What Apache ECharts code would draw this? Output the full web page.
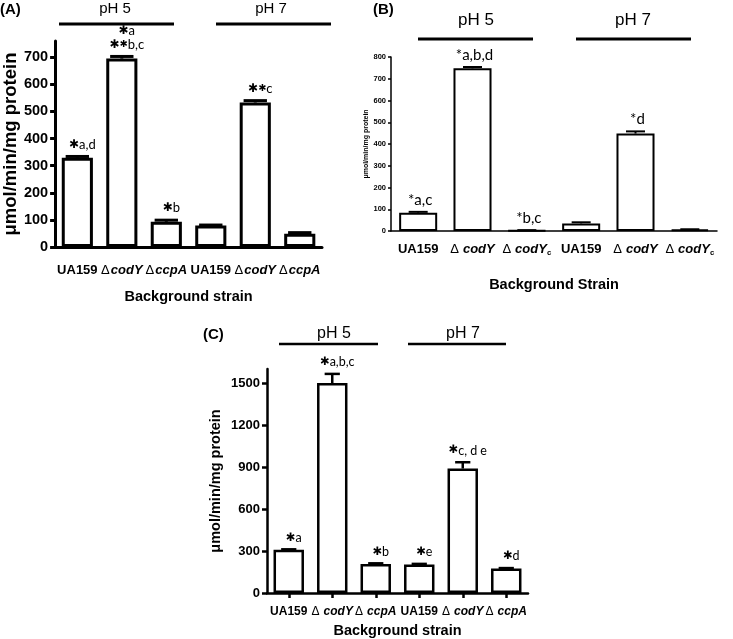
<!DOCTYPE html>
<html><head><meta charset="utf-8">
<script src="https://cdn.jsdelivr.net/npm/echarts@6/dist/echarts.min.js"></script>
<style>html,body{margin:0;padding:0;background:#fff}#c{width:733px;height:639px}</style>
</head><body><div id="c"></div>
<script>
// ---- Data ----
const catsA = ['UA159', 'ΔcodY', 'ΔccpA', 'UA159', 'ΔcodY', 'ΔccpA'];
const valsA = [329, 695, 93, 79, 533, 49];
const errA  = [5, 8, 6, 2, 7, 4];
const annA  = ['*a,d', '*a\n**b,c', '*b', '', '**c', ''];
const ticksA = [0, 100, 200, 300, 400, 500, 600, 700];

const catsB = ['UA159', 'ΔcodY', 'ΔcodY_c', 'UA159', 'ΔcodY', 'ΔcodY_c'];
const valsB = [84, 748, 3, 35, 448, 7];
const errB  = [4, 6, 1, 5, 10, 1];
const annB  = ['*a,c', '*a,b,d', '*b,c', '', '*d', ''];
const ticksB = [0, 100, 200, 300, 400, 500, 600, 700, 800];

const catsC = ['UA159', 'ΔcodY', 'ΔccpA', 'UA159', 'ΔcodY', 'ΔccpA'];
const valsC = [309, 1500, 208, 203, 889, 175];
const errC  = [3, 65, 4, 5, 45, 3];
const annC  = ['*a', '*a,b,c', '*b', '*e', '*c, d e', '*d'];
const ticksC = [0, 300, 600, 900, 1200, 1500];

const groupLabels = ['pH 5', 'pH 7'];
const yName = 'μmol/min/mg protein';

// ---- helpers ----
const F = 'Liberation Sans, Arial, sans-serif';
const AF = 'Lato, Noto Sans, sans-serif';

function catFmt(v) {
  if (v.charAt(0) === 'Δ') {
    let rest = v.slice(1), sub = '';
    if (rest.indexOf('_') >= 0) { sub = rest.split('_')[1]; rest = rest.split('_')[0]; }
    return '{d|Δ}{i|' + rest + '}' + (sub ? '{s|' + sub + '}' : '');
  }
  return '{b|' + v + '}';
}
function catRich(fs, gap) {
  return {
    b: {fontFamily: F, fontWeight: 'bold', fontSize: fs, color: '#000', lineHeight: fs + 2},
    d: {fontFamily: F, fontWeight: 'normal', fontSize: fs, color: '#000', lineHeight: fs + 2, padding: [0, gap, 0, 0]},
    i: {fontFamily: F, fontWeight: 'bold', fontStyle: 'italic', fontSize: fs, color: '#000', lineHeight: fs + 2},
    s: {fontFamily: F, fontWeight: 'bold', fontSize: fs * 0.6, color: '#000', lineHeight: fs * 0.6, verticalAlign: 'bottom'}
  };
}
function annFmt(str, bigStar) {
  return str.split('\n').map(line => {
    let out = '', first = true;
    for (const ch of line) {
      if (ch === '*') { out += bigStar ? (first ? '{s|✱}' : '{s2|✱}') : '{p|*}'; first = false; }
      else out += '{t|' + ch + '}';
    }
    return out;
  }).join('\n');
}
function annRich(fs, starFs) {
  return {
    t: {fontFamily: AF, fontSize: fs, fill: '#000', lineHeight: fs + 1},
    p: {fontFamily: AF, fontSize: fs, fill: '#000', lineHeight: fs + 1},
    s: {fontFamily: 'DejaVu Sans', fontSize: starFs, fill: '#000', lineHeight: fs + 1},
    s2: {fontFamily: 'DejaVu Sans', fontSize: starFs * 0.8, fill: '#000', lineHeight: fs + 1}
  };
}
function errSeries(idx, vals, errs, anns, o) {
  return {
    type: 'custom', xAxisIndex: idx, yAxisIndex: idx, z: 5,
    data: vals.map((v, i) => [i, v, errs[i]]),
    renderItem: function (params, api) {
      const i = api.value(0), v = api.value(1), e = api.value(2);
      const base = api.coord([i, v]);
      const top = api.coord([i, v + e]);
      const bw = api.size([1, 0])[0] * 0.7;
      const cw = bw * o.cap / 2;
      const children = [
        {type: 'line', shape: {x1: base[0], y1: base[1], x2: top[0], y2: top[1]}, style: {stroke: '#000', lineWidth: o.lw}},
        {type: 'line', shape: {x1: top[0] - cw, y1: top[1], x2: top[0] + cw, y2: top[1]}, style: {stroke: '#000', lineWidth: o.lw}}
      ];
      const a = anns[params.dataIndex];
      if (a) {
        children.push({type: 'text', x: top[0] + o.dx, y: top[1] - o.gap,
          style: {text: annFmt(a, o.big), rich: annRich(o.fs, o.sfs), align: 'center', verticalAlign: 'bottom', fill: '#000'}});
      }
      return {type: 'group', children: children};
    }
  };
}

const chart = echarts.init(document.getElementById('c'), null, {renderer: 'canvas'});

function xAx(gi, cats, fs, margin, gap, lw, ticks, name, nameFs, nameGap, dgap) {
  return {
    type: 'category', gridIndex: gi, data: cats,
    axisLine: {lineStyle: {color: '#000', width: lw}},
    axisTick: {show: ticks, alignWithLabel: true, length: 5, lineStyle: {width: lw}},
    axisLabel: {interval: 0, margin: margin, formatter: catFmt, rich: catRich(fs, dgap), color: '#000'},
    name: name, nameLocation: 'middle', nameGap: nameGap,
    nameTextStyle: {fontFamily: F, fontWeight: 'bold', fontSize: nameFs, color: '#000'}
  };
}
function yAx(gi, max, interval, ticks, fs, lw, nameFs, nameGap, tickLen) {
  return {
    type: 'value', gridIndex: gi, min: 0, max: max, interval: interval,
    splitLine: {show: false},
    axisLine: {show: true, lineStyle: {color: '#000', width: lw}},
    axisTick: {show: true, length: tickLen, customValues: ticks, lineStyle: {width: lw}},
    axisLabel: {customValues: ticks, formatter: v => String(v), fontFamily: F, fontWeight: 'bold', fontSize: fs, color: '#000', margin: tickLen + 2},
    name: yName, nameLocation: 'middle', nameGap: nameGap, nameRotate: 90,
    nameTextStyle: {fontFamily: F, fontWeight: 'bold', fontSize: nameFs, color: '#000'}
  };
}

function bars(idx, vals, bw) {
  return {type: 'bar', xAxisIndex: idx, yAxisIndex: idx, data: vals, barWidth: '70%',
    itemStyle: {color: '#fff', borderColor: '#000', borderWidth: bw}, z: 3};
}

function txt(x, y, s, fs, bold, align) {
  return {type: 'text', x: x, y: y, style: {text: s, fontFamily: F, fontSize: fs, fontWeight: bold ? 'bold' : 'normal',
    fill: '#000', align: align || 'center', verticalAlign: 'middle'}};
}
function ln(x1, x2, y, w) {
  return {type: 'line', shape: {x1: x1, y1: y, x2: x2, y2: y}, style: {stroke: '#000', lineWidth: w}};
}

chart.setOption({
  animation: false,
  backgroundColor: '#fff',
  grid: [
    {left: 52, top: 41, width: 270, height: 206},
    {left: 391, top: 57, width: 326, height: 174},
    {left: 267, top: 369, width: 261, height: 225}
  ],
  xAxis: [
    xAx(0, catsA, 13, 16, 40, 3, false, 'Background strain', 14.5, 42, 1),
    xAx(1, catsB, 13, 11, 47, 1.5, false, 'Background Strain', 14.5, 46, 4),
    xAx(2, catsC, 12, 12, 31, 2.5, true, 'Background strain', 14.5, 30, 4)
  ],
  yAxis: [
    yAx(0, 760, 100, ticksA, 14.5, 3, 18.5, 33, 5),
    yAx(1, 800, 100, ticksB, 7.5, 1.5, 7, 19, 3),
    yAx(2, 1600, 300, ticksC, 13, 2.5, 14.5, 44, 5)
  ],
  series: [
    bars(0, valsA, 3),
    errSeries(0, valsA, errA, annA, {lw: 3, cap: 0.75, gap: 5, dx: 5, fs: 13, sfs: 12, big: true}),
    bars(1, valsB, 2),
    errSeries(1, valsB, errB, annB, {lw: 2, cap: 0.5, gap: 4, dx: 2, fs: 15, sfs: 15, big: false}),
    bars(2, valsC, 2.5),
    errSeries(2, valsC, errC, annC, {lw: 2.5, cap: 0.5, gap: 5, dx: 5, fs: 12.5, sfs: 11.5, big: true})
  ],
  graphic: [
    txt(0, 10, '(A)', 15, true, 'left'),
    txt(115, 9, groupLabels[0], 15, false),
    txt(271, 9, groupLabels[1], 15, false),
    ln(59, 174, 24, 3), ln(216, 331, 24, 3),

    txt(373, 10, '(B)', 15, true, 'left'),
    txt(476, 20, groupLabels[0], 17, false),
    txt(633, 20, groupLabels[1], 17, false),
    ln(418, 533, 39, 3), ln(576, 691, 39, 3),

    txt(203, 335, '(C)', 15, true, 'left'),
    txt(334, 334, groupLabels[0], 16, false),
    txt(463, 334, groupLabels[1], 16, false),
    ln(279, 378, 344, 2.5), ln(408, 506, 344, 2.5)
  ]
});
</script></body></html>
